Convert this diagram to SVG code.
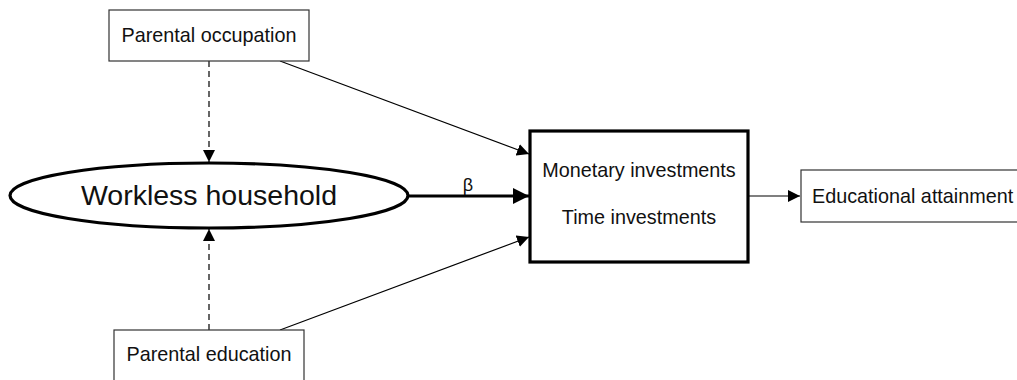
<svg xmlns="http://www.w3.org/2000/svg" width="1017" height="380" viewBox="0 0 1017 380">
<style>
.box{fill:#fff;stroke:#333;stroke-width:1.2}
.thick{fill:#fff;stroke:#000;stroke-width:3.2}
.t{font-family:"Liberation Sans",Arial,sans-serif;font-size:19.8px;fill:#111;text-anchor:middle}
.big{font-size:28.5px}
.c{stroke:#000;fill:none;stroke-width:1.2}
.w{stroke-width:3}
.d{stroke-dasharray:6,4}
</style>
<defs>
<marker id="ah" viewBox="0 0 10 10" refX="10" refY="5" markerWidth="12" markerHeight="12" markerUnits="userSpaceOnUse" orient="auto"><path d="M0,0L10,5L0,10z" fill="#000"/></marker>
<marker id="ahb" viewBox="0 0 10 10" refX="10" refY="5" markerWidth="16" markerHeight="16" markerUnits="userSpaceOnUse" orient="auto"><path d="M0,0L10,5L0,10z" fill="#000"/></marker>
</defs>
<g id="connectors">
<line class="c d" x1="209" y1="61" x2="209" y2="162" marker-end="url(#ah)"/>
<line class="c d" x1="209" y1="330" x2="209" y2="229" marker-end="url(#ah)"/>
<line class="c" x1="280" y1="61" x2="529" y2="154" marker-end="url(#ah)"/>
<line class="c" x1="280" y1="330" x2="529" y2="237" marker-end="url(#ah)"/>
<line class="c w" x1="408" y1="196" x2="529" y2="196" marker-end="url(#ahb)"/>
<line class="c" x1="748" y1="196" x2="800" y2="196" marker-end="url(#ah)"/>
<text class="t" x="468" y="191" style="font-size:18px">β</text>
</g>
<g id="parental-occupation">
<rect class="box" x="109" y="10" width="200" height="51"/>
<text class="t" x="209" y="42">Parental occupation</text>
</g>
<g id="workless-household">
<ellipse class="thick" cx="209" cy="195.5" rx="199" ry="32.5"/>
<text class="t big" x="209" y="205">Workless household</text>
</g>
<g id="investments">
<rect class="thick" x="530" y="131" width="218" height="131"/>
<text class="t" x="639" y="177">Monetary investments</text>
<text class="t" x="639" y="224">Time investments</text>
</g>
<g id="educational-attainment">
<rect class="box" x="801" y="170" width="230" height="52"/>
<text class="t" x="812" y="203" style="text-anchor:start">Educational attainment</text>
</g>
<g id="parental-education">
<rect class="box" x="114" y="330" width="190" height="60"/>
<text class="t" x="209" y="361">Parental education</text>
</g>
</svg>
